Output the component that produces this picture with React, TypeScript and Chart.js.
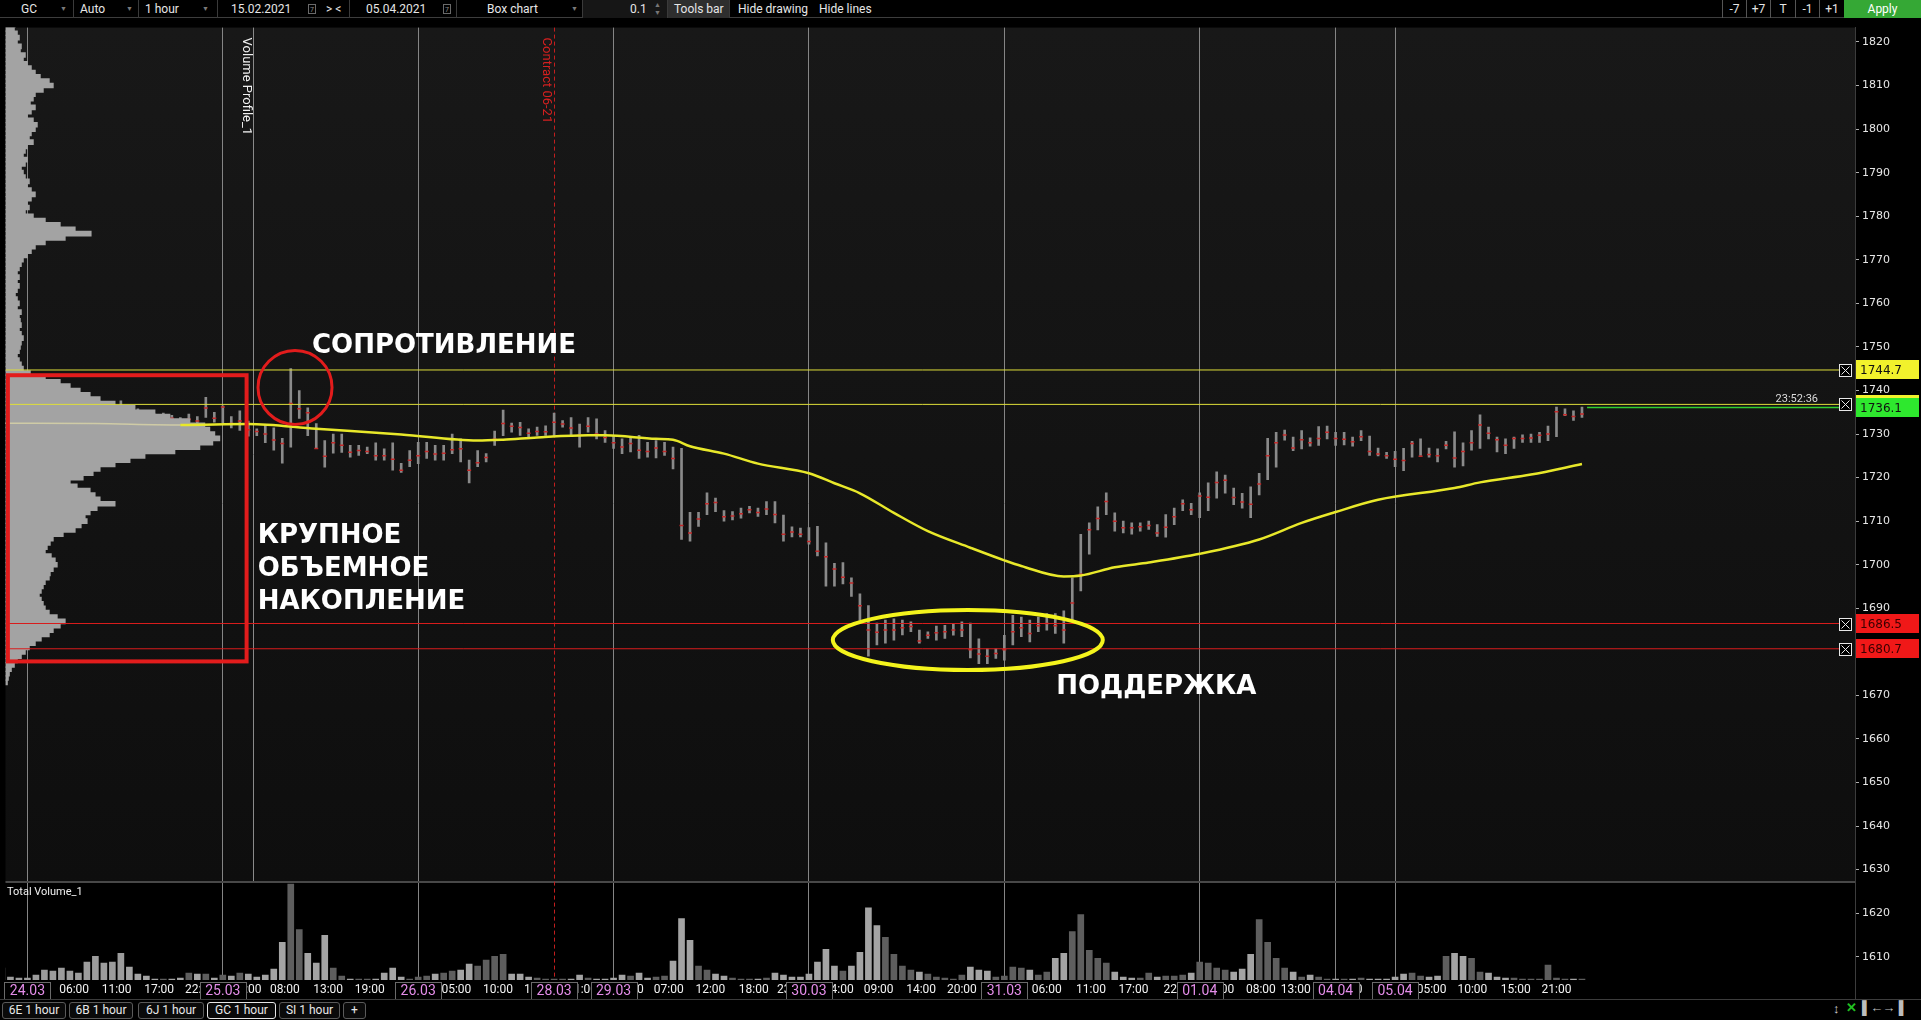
import React, { useEffect, useRef } from 'react';
import { Chart, registerables } from 'chart.js';

Chart.register(...registerables);

// ================= DATA =================
// hourly bars, index 0 = start of 24.03
const BAR_START = 11;
const HIGHS = [
  1737.6, 1736.5, 1735.8, 1735.0, 1734.6, 1734.8, 1734.3, 1733.8, 1734.6, 1734.0,
  1738.4, 1735.0, 1736.5, 1734.0, 1735.3, 1733.0, 1731.2, 1732.0, 1731.4, 1729.0,
  1745.0, 1740.0, 1736.0, 1732.4, 1728.5, 1730.0, 1730.0, 1727.4, 1727.4, 1727.0,
  1728.0, 1726.6, 1728.0, 1723.3, 1726.2, 1728.1, 1728.1, 1727.4, 1727.4, 1730.0,
  1728.9, 1724.0, 1726.2, 1725.5, 1730.7, 1735.5, 1732.5, 1732.7, 1731.2, 1731.6,
  1731.9, 1734.8, 1733.1, 1733.8, 1732.3, 1733.8, 1733.5, 1730.8, 1729.6, 1728.9,
  1729.3, 1729.7, 1728.1, 1728.5, 1728.1, 1727.0, 1726.7, 1712.0, 1712.0, 1716.5,
  1715.3, 1712.4, 1712.2, 1713.0, 1713.4, 1713.0, 1714.5, 1714.5, 1711.4, 1708.7,
  1708.4, 1708.5, 1708.8, 1705.0, 1700.3, 1700.5, 1697.0, 1693.3, 1690.6, 1686.6,
  1687.3, 1687.6, 1687.3, 1686.9, 1685.0, 1684.6, 1685.9, 1686.1, 1686.5, 1686.9,
  1686.6, 1683.0, 1680.7, 1680.7, 1683.8, 1688.4, 1688.0, 1687.3, 1688.0, 1688.8,
  1688.8, 1689.4, 1697.0, 1707.0, 1709.6, 1713.3, 1716.5, 1711.9, 1710.0, 1709.6,
  1709.6, 1710.0, 1709.2, 1711.5, 1713.0, 1714.9, 1714.1, 1716.5, 1718.8, 1721.3,
  1720.6, 1717.6, 1716.4, 1717.9, 1721.0, 1729.0, 1730.4, 1730.9, 1729.3, 1730.8,
  1729.1, 1731.7, 1731.8, 1730.4, 1730.4, 1729.3, 1730.8, 1729.5, 1726.8, 1725.8,
  1726.0, 1726.7, 1728.3, 1728.9, 1726.8, 1726.6, 1728.3, 1730.5, 1728.0, 1730.8,
  1734.4, 1731.6, 1729.3, 1728.9, 1729.3, 1729.8, 1730.0, 1730.4, 1731.8, 1736.2,
  1735.8, 1735.3, 1736.2,
];
const LOWS = [
  1735.0, 1733.5, 1733.0, 1732.8, 1732.9, 1733.1, 1733.0, 1732.7, 1732.7, 1732.5,
  1733.8, 1732.7, 1732.6, 1731.4, 1730.8, 1729.5, 1729.6, 1728.0, 1726.3, 1723.3,
  1727.0, 1733.6, 1729.6, 1726.7, 1722.4, 1725.6, 1725.8, 1724.7, 1725.1, 1725.5,
  1724.0, 1724.0, 1721.7, 1721.2, 1722.5, 1723.2, 1724.4, 1724.0, 1724.0, 1725.5,
  1723.6, 1718.8, 1722.5, 1723.6, 1727.4, 1729.6, 1730.4, 1729.7, 1729.3, 1729.7,
  1729.7, 1729.6, 1731.6, 1729.7, 1727.0, 1730.4, 1728.9, 1728.1, 1726.7, 1725.5,
  1725.9, 1724.4, 1724.7, 1724.5, 1725.1, 1722.0, 1705.8, 1705.4, 1708.8, 1711.5,
  1712.2, 1710.0, 1710.3, 1710.7, 1711.9, 1711.1, 1711.5, 1709.6, 1705.4, 1706.4,
  1706.4, 1704.7, 1702.0, 1695.1, 1695.1, 1695.6, 1692.7, 1687.2, 1679.0, 1681.6,
  1682.0, 1682.7, 1683.9, 1684.6, 1682.0, 1683.1, 1682.7, 1683.1, 1683.8, 1683.5,
  1678.6, 1677.3, 1677.3, 1678.5, 1678.1, 1681.6, 1683.5, 1682.3, 1684.6, 1685.0,
  1684.2, 1682.0, 1687.2, 1694.0, 1702.4, 1708.0, 1711.5, 1707.7, 1707.3, 1707.0,
  1707.7, 1708.1, 1706.5, 1706.3, 1709.2, 1712.4, 1711.5, 1710.8, 1712.4, 1715.3,
  1716.4, 1713.8, 1713.0, 1710.8, 1716.0, 1719.5, 1722.4, 1728.6, 1726.2, 1726.6,
  1727.2, 1727.4, 1728.9, 1727.4, 1727.5, 1727.2, 1728.5, 1725.1, 1725.0, 1724.4,
  1722.5, 1721.6, 1724.7, 1725.1, 1724.7, 1723.6, 1726.6, 1722.4, 1722.7, 1726.3,
  1726.7, 1728.9, 1725.9, 1725.5, 1726.7, 1728.1, 1728.1, 1728.1, 1728.5, 1729.4,
  1734.2, 1733.1, 1733.8,
];
// point of control of each bar (red tick)
const POCS = [
  1736.0, 1734.8, 1734.2, 1733.8, 1733.6, 1734.0, 1733.6, 1733.2, 1733.4, 1733.0,
  1736.0, 1733.6, 1736.2, 1732.4, 1733.0, 1731.0, 1730.6, 1730.0, 1728.6, 1727.8,
  1737.0, 1735.8, 1734.9, 1726.7, 1724.9, 1728.0, 1727.4, 1725.8, 1726.2, 1726.0,
  1725.0, 1725.0, 1724.2, 1721.7, 1724.0, 1725.0, 1726.0, 1725.4, 1725.6, 1726.4,
  1726.6, 1721.7, 1723.4, 1724.6, 1728.8, 1732.4, 1731.8, 1731.5, 1730.2, 1730.6,
  1730.5, 1732.7, 1732.3, 1731.4, 1729.8, 1731.8, 1730.0, 1729.2, 1728.0, 1727.0,
  1727.8, 1726.3, 1726.0, 1726.8, 1726.0, 1724.4, 1709.0, 1707.3, 1710.5, 1714.0,
  1714.3, 1711.0, 1711.2, 1711.7, 1712.6, 1712.0, 1712.8, 1711.5, 1707.0, 1707.5,
  1707.0, 1705.3, 1703.1, 1701.8, 1699.0, 1697.1, 1695.8, 1690.6, 1685.0, 1684.5,
  1685.0, 1685.0, 1685.5, 1685.8, 1682.5, 1683.8, 1684.4, 1684.6, 1685.0, 1685.0,
  1680.5, 1679.5, 1679.0, 1679.6, 1680.5, 1684.6, 1685.5, 1684.2, 1686.0, 1686.5,
  1686.0, 1685.0, 1691.2, 1697.8, 1708.0, 1710.6, 1714.5, 1710.0, 1708.5, 1708.5,
  1708.7, 1709.0, 1707.3, 1708.6, 1711.0, 1714.0, 1712.6, 1715.8, 1715.5, 1718.9,
  1719.4, 1715.4, 1714.4, 1713.9, 1718.5, 1725.0, 1728.0, 1729.8, 1726.8, 1728.7,
  1728.0, 1729.0, 1730.4, 1729.0, 1728.8, 1728.2, 1729.4, 1726.0, 1725.4, 1725.0,
  1724.2, 1723.9, 1727.8, 1724.9, 1725.3, 1725.0, 1727.4, 1724.5, 1726.0, 1728.0,
  1732.1, 1730.2, 1728.7, 1727.4, 1729.0, 1729.0, 1729.1, 1729.7, 1730.0, 1735.1,
  1734.4, 1734.0, 1734.6,
];
// Total Volume_1 (relative units)
const VOL_START = -3;
const VOLUMES = [
  12, 3, 2, 2, 5, 10, 9, 12, 9, 7,
  18, 24, 17, 18, 27, 13, 6, 4, 1, 1,
  1, 2, 7, 6, 6, 2, 5, 4, 7, 6,
  3, 5, 11, 38, 97, 51, 27, 17, 45, 12,
  4, 1, 1, 1, 1, 7, 12, 3, 1, 3,
  4, 6, 7, 9, 10, 16, 14, 20, 24, 26,
  6, 6, 3, 2, 1, 1, 1, 1, 5, 2,
  1, 1, 2, 5, 4, 7, 2, 3, 4, 19,
  62, 40, 14, 10, 6, 4, 2, 1, 1, 1,
  2, 7, 5, 3, 3, 6, 18, 31, 14, 9,
  14, 28, 73, 55, 43, 26, 14, 10, 8, 6,
  3, 2, 1, 5, 13, 10, 9, 3, 4, 13,
  12, 10, 5, 8, 22, 27, 49, 66, 30, 22,
  17, 8, 3, 2, 2, 7, 3, 4, 4, 5,
  7, 18, 17, 12, 10, 8, 11, 26, 61, 38,
  22, 12, 8, 3, 5, 3, 1, 1, 1, 1,
  2, 1, 1, 1, 3, 6, 7, 4, 3, 4,
  24, 27, 24, 22, 8, 7, 3, 2, 2, 1,
  1, 1, 15, 2, 1, 1, 1,
];
// moving average (yellow)
const MA_IDX = [-3, 8, 18, 26, 34, 44, 53, 56, 60, 66, 68, 74, 76, 78, 82, 86, 92, 95, 98, 102, 106, 111, 115, 117, 122, 124, 128, 132, 138, 145, 150, 154, 159, 168, 171, 177, 183];
const MA_VAL = [1732.5, 1732.4, 1732.1, 1732.3, 1731.2, 1729.9, 1728.5, 1728.7, 1729.2, 1729.7, 1729.7, 1728.9, 1728.7, 1727.2, 1725.5, 1723.2, 1721.0, 1718.7, 1716.4, 1711.9, 1707.7, 1703.9, 1701.0, 1699.7, 1697.3, 1697.5, 1699.4, 1700.5, 1702.5, 1705.8, 1709.6, 1712.1, 1714.9, 1717.6, 1718.9, 1720.7, 1723.1];
// Volume Profile_1 : one value per price point, from PROFILE_TOP downwards
const PROFILE_TOP = 1825;
const PROFILE = [
  8, 10, 9, 12, 14, 12, 16, 15, 20, 18,
  22, 26, 30, 35, 44, 48, 38, 30, 28, 25,
  30, 26, 22, 28, 32, 30, 26, 24, 28, 22,
  20, 18, 22, 20, 16, 18, 20, 24, 22, 26,
  30, 26, 22, 24, 20, 28, 40, 55, 70, 86,
  60, 40, 30, 26, 22, 18, 16, 14, 12, 14,
  12, 14, 12, 10, 12, 14, 12, 16, 14, 15,
  16, 14, 16, 18, 16, 15, 14, 12, 14, 16,
  18, 25, 40, 55, 65, 75, 85, 95, 110, 130,
  150, 165, 185, 200, 205, 210, 215, 208, 195, 170,
  140, 125, 110, 95, 88, 78, 65, 72, 85, 90,
  95, 110, 92, 85, 80, 82, 76, 70, 58, 48,
  45, 42, 40, 46, 50, 52, 48, 45, 44, 40,
  38, 36, 34, 36, 38, 40, 44, 52, 60, 55,
  48, 44, 36, 30, 24, 20, 16, 12, 9, 6,
  4, 3, 2,
];
const PRICE_TICKS = [1610, 1620, 1630, 1640, 1650, 1660, 1670, 1680, 1690, 1700, 1710, 1720, 1730, 1740, 1750, 1760, 1770, 1780, 1790, 1800, 1810, 1820];
const DATE_POS = [0, 23, 46, 62, 69, 92, 115, 138, 154, 161];
const DATE_LABELS = ['24.03', '25.03', '26.03', '28.03', '29.03', '30.03', '31.03', '01.04', '04.04', '05.04'];
const TIME_POS = [5.5, 10.5, 15.5, 20.3, 25.8, 30.3, 35.4, 40.3, 50.5, 55.4, 60.2, 65.3, 70.8, 75.5, 80.4, 85.5, 90.0, 95.5, 100.2, 105.2, 110.0, 120.0, 125.2, 130.2, 135.5, 140.3, 145.2, 149.3, 155.4, 165.3, 170.1, 175.2, 180.0];
const TIME_LABELS = ['06:00', '11:00', '17:00', '22:00', '03:00', '08:00', '13:00', '19:00', '05:00', '10:00', '15:00', '21:00', '02:00', '07:00', '12:00', '18:00', '23:00', '04:00', '09:00', '14:00', '20:00', '06:00', '11:00', '17:00', '22:00', '03:00', '08:00', '13:00', '20:00', '05:00', '10:00', '15:00', '21:00'];
const CONTRACT_IDX = 62;
const CONTRACT_LABEL = 'Contract 06-21';
const VP_IDX = 26.6;
const VP_LABEL = 'Volume Profile_1';
const RESISTANCE_LEVELS = [1744.7, 1736.8];
const SUPPORT_LEVELS = [1686.5, 1680.7];
const LAST_PRICE = 1736.1;
const LAST_BAR = 183;
const LAST_TIME = '23:52:36';
// drawings (data coordinates)
const ACCUM_BOX = [-2.3, 25.8, 1743.5, 1677.8]; // x0, x1, top price, bottom price
const RES_CIRCLE = [31.5, 1740.7];
const SUP_ELLIPSE = [110.7, 1682.7];
const NOTE_TEXTS = ['СОПРОТИВЛЕНИЕ', 'КРУПНОЕ', 'ОБЪЕМНОЕ', 'НАКОПЛЕНИЕ', 'ПОДДЕРЖКА'];
const NOTE_X = [33.5, 27.1, 27.1, 27.1, 121.1];
const NOTE_Y = [1748.6, 1705.0, 1697.5, 1689.9, 1670.3];

// ================= LAYOUT =================
const W = 1921;
const CANVAS_TOP = 18;
const CANVAS_H = 982;
const PLOT_RIGHT = 1855;
const PLOT_BOTTOM = 962;
const VOL_TOP = 864;
const PX_PER_BAR = 8.52;
const DAY0_PX = 22;
const PX_PER_POINT = 4.4;
const X_MIN = -DAY0_PX / PX_PER_BAR;
const X_MAX = (PLOT_RIGHT - DAY0_PX) / PX_PER_BAR;
const Y_MAX = 1823.3;
const Y_MIN = Y_MAX - PLOT_BOTTOM / PX_PER_POINT;
const LINE_END_IDX = (1839 - DAY0_PX) / PX_PER_BAR;
const PROFILE_END_IDX = 18;

const X_TICKS = [...TIME_POS, ...DATE_POS].sort((a, b) => a - b);

const overlay = {
  id: 'overlay',
  beforeDraw(chart: any) {
    const { ctx, chartArea: a } = chart;
    ctx.save();
    const g = ctx.createLinearGradient(0, a.top, 0, VOL_TOP);
    g.addColorStop(0, '#181818');
    g.addColorStop(1, '#0e0e0e');
    ctx.fillStyle = g;
    ctx.fillRect(a.left, a.top, a.right - a.left, VOL_TOP - a.top);
    ctx.fillStyle = '#000';
    ctx.fillRect(a.left, VOL_TOP, a.right - a.left, a.bottom - VOL_TOP);
    ctx.restore();
  },
  beforeDatasetsDraw(chart: any) {
    const { ctx, chartArea: a, scales } = chart;
    const xs = scales.x;
    ctx.save();
    ctx.strokeStyle = '#484848';
    ctx.lineWidth = 2;
    ctx.beginPath();
    ctx.moveTo(a.left, VOL_TOP);
    ctx.lineTo(a.right, VOL_TOP);
    ctx.stroke();
    const vx = Math.round(xs.getPixelForValue(VP_IDX)) + 0.5;
    ctx.strokeStyle = '#8a8a8a';
    ctx.lineWidth = 1;
    ctx.beginPath();
    ctx.moveTo(vx, a.top);
    ctx.lineTo(vx, VOL_TOP - 1);
    ctx.stroke();
    const cx = Math.round(xs.getPixelForValue(CONTRACT_IDX)) + 0.5;
    ctx.strokeStyle = '#c41e1e';
    ctx.setLineDash([4, 3]);
    ctx.beginPath();
    ctx.moveTo(cx, a.top);
    ctx.lineTo(cx, a.bottom);
    ctx.stroke();
    ctx.restore();
  },
  afterDatasetsDraw(chart: any) {
    const { ctx, scales } = chart;
    const px = (v: number) => scales.x.getPixelForValue(v);
    const py = (v: number) => scales.y.getPixelForValue(v);
    ctx.save();
    ctx.strokeStyle = '#e21c1c';
    ctx.lineWidth = 4;
    const bx0 = px(ACCUM_BOX[0]), bx1 = px(ACCUM_BOX[1]);
    const by0 = py(ACCUM_BOX[2]), by1 = py(ACCUM_BOX[3]);
    ctx.strokeRect(bx0, by0, bx1 - bx0, by1 - by0);
    ctx.lineWidth = 3;
    ctx.beginPath();
    ctx.arc(px(RES_CIRCLE[0]), py(RES_CIRCLE[1]), 37, 0, Math.PI * 2);
    ctx.stroke();
    ctx.strokeStyle = '#f4f41c';
    ctx.lineWidth = 4;
    ctx.beginPath();
    ctx.ellipse(px(SUP_ELLIPSE[0]), py(SUP_ELLIPSE[1]), 135, 30, 0, 0, Math.PI * 2);
    ctx.stroke();
    ctx.fillStyle = '#ffffff';
    ctx.font = 'bold 26px "DejaVu Sans"';
    ctx.textAlign = 'left';
    ctx.textBaseline = 'alphabetic';
    NOTE_TEXTS.forEach((t, i) => ctx.fillText(t, px(NOTE_X[i]), py(NOTE_Y[i])));
    ctx.restore();
  },
  afterDraw(chart: any) {
    const { ctx, scales, chartArea: a } = chart;
    const xs = scales.x, ys = scales.y;
    ctx.save();
    // date boxes on time axis
    ctx.font = '14px Roboto';
    ctx.textAlign = 'center';
    ctx.textBaseline = 'middle';
    DATE_POS.forEach((d, i) => {
      const x = xs.getPixelForValue(d);
      const w = 46, h = 17, top = 964;
      const l = Math.round(x - w / 2);
      ctx.fillStyle = '#000';
      ctx.fillRect(l, top, w, h);
      ctx.strokeStyle = '#6a6a6a';
      ctx.lineWidth = 1;
      ctx.strokeRect(l + 0.5, top + 0.5, w, h);
      ctx.fillStyle = '#e38ce8';
      ctx.fillText(DATE_LABELS[i], x, top + h / 2 + 1);
    });
    // rotated labels
    ctx.textAlign = 'left';
    ctx.textBaseline = 'top';
    ctx.font = '13px Roboto';
    const drawV = (idx: number, text: string, color: string) => {
      const x = xs.getPixelForValue(idx);
      ctx.save();
      ctx.translate(x - 1, a.top + 10);
      ctx.rotate(Math.PI / 2);
      ctx.fillStyle = color;
      ctx.fillText(text, 0, 0);
      ctx.restore();
    };
    drawV(VP_IDX, VP_LABEL, '#f0f0f0');
    drawV(CONTRACT_IDX, CONTRACT_LABEL, '#d42020');
    // volume pane title
    ctx.font = '11px Roboto';
    ctx.fillStyle = '#f0f0f0';
    ctx.textBaseline = 'top';
    ctx.fillText('Total Volume_1', 7, VOL_TOP + 5);
    // last price clock
    ctx.textAlign = 'right';
    ctx.textBaseline = 'alphabetic';
    ctx.fillStyle = '#dcdcdc';
    ctx.fillText(LAST_TIME, 1818, ys.getPixelForValue(LAST_PRICE) - 5);
    // level price tags on the axis
    const tags = [
      { v: RESISTANCE_LEVELS[0], bg: '#f2f22c', fg: '#111' },
      { v: RESISTANCE_LEVELS[1], bg: '#f2f22c', fg: '#111' },
      { v: LAST_PRICE, bg: '#2ee82e', fg: '#111' },
      { v: SUPPORT_LEVELS[0], bg: '#f01818', fg: '#3a0000' },
      { v: SUPPORT_LEVELS[1], bg: '#f01818', fg: '#3a0000' },
    ];
    ctx.font = '12px "DejaVu Sans"';
    ctx.textAlign = 'left';
    ctx.textBaseline = 'middle';
    tags.forEach((t) => {
      const y = ys.getPixelForValue(t.v);
      ctx.fillStyle = t.bg;
      ctx.fillRect(1856, Math.round(y - 9.5), 63, 19);
      ctx.fillStyle = t.fg;
      ctx.fillText(t.v.toFixed(1), 1860, y + 1);
    });
    // close boxes of the lines
    [RESISTANCE_LEVELS[0], RESISTANCE_LEVELS[1], SUPPORT_LEVELS[0], SUPPORT_LEVELS[1]].forEach((v) => {
      const y = Math.round(ys.getPixelForValue(v));
      ctx.fillStyle = '#000';
      ctx.fillRect(1839, y - 6, 12, 12);
      ctx.strokeStyle = '#e8e8e8';
      ctx.lineWidth = 1;
      ctx.strokeRect(1839.5, y - 5.5, 12, 12);
      ctx.beginPath();
      ctx.moveTo(1841.5, y - 3.5);
      ctx.lineTo(1849.5, y + 4.5);
      ctx.moveTo(1849.5, y - 3.5);
      ctx.lineTo(1841.5, y + 4.5);
      ctx.stroke();
    });
    ctx.strokeStyle = '#3c3c3c';
    ctx.beginPath();
    ctx.moveTo(PLOT_RIGHT + 0.5, a.bottom);
    ctx.lineTo(PLOT_RIGHT + 0.5, CANVAS_H);
    ctx.stroke();
    ctx.restore();
  },
};

function buildConfig(): any {
  const barData = HIGHS.map((h, i) => ({ x: BAR_START + i, y: [LOWS[i], h] }));
  const pocData = POCS.map((p, i) => ({ x: BAR_START + i, y: p }));
  const volData = VOLUMES.map((v, i) => ({ x: VOL_START + i, y: v }));
  const volColors = VOLUMES.map((v, i) => {
    const k = VOL_START + i - BAR_START;
    if (k <= 0 || k >= HIGHS.length) return '#9c9c9c';
    return HIGHS[k] + LOWS[k] < HIGHS[k - 1] + LOWS[k - 1] ? '#a4a4a4' : '#5e5e5e';
  });
  const profData = PROFILE.map((v, i) => ({ x: v, y: PROFILE_TOP - i }));
  const maData = MA_IDX.map((x, i) => ({ x, y: MA_VAL[i] }));
  const levelLine = (v: number, color: string, from = X_MIN, width = 1, order = 1) => ({
    type: 'line',
    data: [{ x: from, y: v }, { x: LINE_END_IDX, y: v }],
    borderColor: color,
    borderWidth: width,
    pointRadius: 0,
    order,
    xAxisID: 'x',
    yAxisID: 'y',
  });
  const datasets: any[] = [
    {
      type: 'bar', label: 'profile', indexAxis: 'y', xAxisID: 'xProf', yAxisID: 'y',
      data: profData, backgroundColor: '#a3a3a3', barThickness: 5, grouped: false,
      borderWidth: 0, order: 2,
    },
    {
      type: 'bar', label: 'volume', xAxisID: 'x', yAxisID: 'yVol', data: volData,
      backgroundColor: volColors, barThickness: 6, grouped: false, borderWidth: 0, order: 9,
    },
    ...RESISTANCE_LEVELS.map((v) => levelLine(v, '#dede3a')),
    ...SUPPORT_LEVELS.map((v) => levelLine(v, '#d81c1c')),
    levelLine(LAST_PRICE, '#30d030', LAST_BAR + 0.6, 1.5, 1),
    {
      type: 'bar', label: 'bars', xAxisID: 'x', yAxisID: 'y', data: barData,
      backgroundColor: '#8a8a8a', barThickness: 2, grouped: false, borderWidth: 0, order: 5,
    },
    {
      type: 'line', label: 'poc', xAxisID: 'x', yAxisID: 'y', data: pocData, showLine: false,
      pointStyle: 'line', pointRadius: 2, pointBorderColor: '#c42828', pointBorderWidth: 1.5,
      pointBackgroundColor: '#c42828', order: 4,
    },
    {
      type: 'line', label: 'ma', xAxisID: 'x', yAxisID: 'y', data: maData, borderColor: '#e8e82a',
      borderWidth: 2.5, pointRadius: 0, cubicInterpolationMode: 'monotone', order: 0,
      segment: {
        borderColor: (c: any) => (c.p0.parsed.x < PROFILE_END_IDX ? '#cfcba6' : '#e8e82a'),
        borderWidth: (c: any) => (c.p0.parsed.x < PROFILE_END_IDX ? 1.5 : 2.5),
      },
    },
  ];
  return {
    type: 'bar',
    data: { datasets },
    plugins: [overlay],
    options: {
      responsive: false,
      maintainAspectRatio: false,
      animation: false,
      devicePixelRatio: 1,
      events: [],
      layout: { padding: 0 },
      plugins: { legend: { display: false }, tooltip: { enabled: false } },
      scales: {
        x: {
          type: 'linear', position: 'bottom', min: X_MIN, max: X_MAX, offset: false,
          afterFit: (s: any) => { s.height = CANVAS_H - PLOT_BOTTOM; },
          afterBuildTicks: (s: any) => { s.ticks = X_TICKS.map((v) => ({ value: v })); },
          ticks: {
            autoSkip: false, maxRotation: 0, minRotation: 0, padding: 3, color: '#f2f2f2',
            font: { family: 'Roboto', size: 12 },
            callback: (v: number) => {
              const k = TIME_POS.indexOf(v);
              return k >= 0 ? TIME_LABELS[k] : '';
            },
          },
          grid: {
            offset: false, drawTicks: false, lineWidth: 1,
            color: (c: any) => (c.tick && DATE_POS.includes(c.tick.value) && c.tick.value !== CONTRACT_IDX ? '#858585' : 'rgba(0,0,0,0)'),
          },
          border: { display: false },
        },
        y: {
          type: 'linear', position: 'right', min: Y_MIN, max: Y_MAX, offset: false,
          afterFit: (s: any) => { s.width = W - PLOT_RIGHT; },
          afterBuildTicks: (s: any) => { s.ticks = PRICE_TICKS.map((v) => ({ value: v })); },
          ticks: { color: '#e6e6e6', font: { family: 'DejaVu Sans', size: 11 }, padding: 3, callback: (v: number) => String(v) },
          grid: { offset: false, drawOnChartArea: false, drawTicks: true, tickLength: 4, tickColor: '#b0b0b0' },
          border: { display: true, color: '#3c3c3c' },
        },
        yVol: { type: 'linear', axis: 'y', display: false, min: 0, max: PLOT_BOTTOM, offset: false, grid: { offset: false } },
        xProf: { type: 'linear', axis: 'x', display: false, min: 0, max: PLOT_RIGHT, offset: false, grid: { offset: false } },
      },
    },
  };
}

const abs = (s: React.CSSProperties): React.CSSProperties => ({ position: 'absolute', top: 0, height: 18, lineHeight: '18px', whiteSpace: 'nowrap', ...s });

function Toolbar() {
  const seps = [73, 138, 217, 349, 456, 582, 667, 729];
  const arrows = [60, 126, 202, 571];
  const right: [number, number, string][] = [[1722, 24, '-7'], [1746, 24, '+7'], [1770, 25, 'T'], [1795, 24, '-1'], [1819, 25, '+1']];
  return (
    <div style={{ position: 'absolute', left: 0, top: 0, width: W, height: 18, background: '#000', borderBottom: '1px solid #3d3d3d', boxSizing: 'border-box', fontSize: 12, color: '#e6e6e6' }}>
      <div style={abs({ left: 582, width: 85, background: '#161616' })} />
      <div style={abs({ left: 667, width: 62, background: '#2e2e2e' })} />
      {seps.map((x) => <div key={x} style={abs({ left: x, width: 1, background: '#3a3a3a' })} />)}
      {arrows.map((x) => <span key={x} style={abs({ left: x, fontSize: 7, color: '#7a7a7a' })}>▼</span>)}
      <span style={abs({ left: 21 })}>GC</span>
      <span style={abs({ left: 80 })}>Auto</span>
      <span style={abs({ left: 145 })}>1 hour</span>
      <span style={abs({ left: 231 })}>15.02.2021</span>
      <span style={abs({ left: 308, top: 4, height: 10, width: 8, lineHeight: '11px', border: '1px solid #6a6a6a', fontSize: 7, color: '#8a8a8a', textAlign: 'center', boxSizing: 'border-box' })}>7</span>
      <span style={abs({ left: 326 })}>&gt; &lt;</span>
      <span style={abs({ left: 366 })}>05.04.2021</span>
      <span style={abs({ left: 443, top: 4, height: 10, width: 8, lineHeight: '11px', border: '1px solid #6a6a6a', fontSize: 7, color: '#8a8a8a', textAlign: 'center', boxSizing: 'border-box' })}>7</span>
      <span style={abs({ left: 487 })}>Box chart</span>
      <span style={abs({ left: 630 })}>0.1</span>
      <span style={abs({ left: 654, fontSize: 7, color: '#777', lineHeight: '8px', top: 1, width: 8 })}>▲<br />▼</span>
      <span style={abs({ left: 674 })}>Tools bar</span>
      <span style={abs({ left: 738 })}>Hide drawing</span>
      <span style={abs({ left: 819 })}>Hide lines</span>
      {right.map(([l, w, t]) => (
        <span key={t} style={abs({ left: l, width: w, textAlign: 'center', borderLeft: '1px solid #555', boxSizing: 'border-box' })}>{t}</span>
      ))}
      <span style={abs({ left: 1844, width: 77, textAlign: 'center', background: '#35a835', color: '#fff' })}>Apply</span>
    </div>
  );
}

function Tabs() {
  const tabs: [string, number, number][] = [['6E 1 hour', 2, 64], ['6B 1 hour', 69, 64], ['6J 1 hour', 138, 66], ['GC 1 hour', 207, 69], ['SI 1 hour', 279, 61], ['+', 343, 23]];
  return (
    <div style={{ position: 'absolute', left: 0, top: 999, width: W, height: 21, background: '#000', borderTop: '1px solid #3c3c3c', boxSizing: 'border-box', fontSize: 12, color: '#e8e8e8' }}>
      {tabs.map(([t, l, w]) => (
        <div key={t} style={{ position: 'absolute', left: l, top: 2, width: w, height: 17, lineHeight: '15px', textAlign: 'center', boxSizing: 'border-box', border: t === 'GC 1 hour' ? '1px solid #e6e6e6' : '1px solid #5a5a5a', borderRadius: 3, background: '#0a0a0a' }}>{t}</div>
      ))}
      <span style={{ position: 'absolute', left: 1833, top: 1, fontSize: 13, color: '#cfcfcf' }}>↕</span>
      <span style={{ position: 'absolute', left: 1846, top: 0, fontSize: 13, fontWeight: 'bold', color: '#22c022' }}>✕</span>
      <span style={{ position: 'absolute', left: 1862, top: 0, fontSize: 13, color: '#bdbdbd', letterSpacing: -1 }}>▌←→▐</span>
    </div>
  );
}

export default function App() {
  const ref = useRef<HTMLCanvasElement>(null);
  useEffect(() => {
    document.body.style.margin = '0';
    document.body.style.background = '#000';
    Chart.defaults.font.family = 'Roboto';
    const chart = new Chart(ref.current as HTMLCanvasElement, buildConfig());
    return () => chart.destroy();
  }, []);
  return (
    <div style={{ position: 'fixed', left: 0, top: 0, width: W, height: 1020, background: '#000', overflow: 'hidden', fontFamily: 'Roboto, sans-serif' }}>
      <Toolbar />
      <canvas ref={ref} width={W} height={CANVAS_H} style={{ position: 'absolute', left: 0, top: CANVAS_TOP, width: W, height: CANVAS_H, display: 'block' }} />
      <Tabs />
    </div>
  );
}
